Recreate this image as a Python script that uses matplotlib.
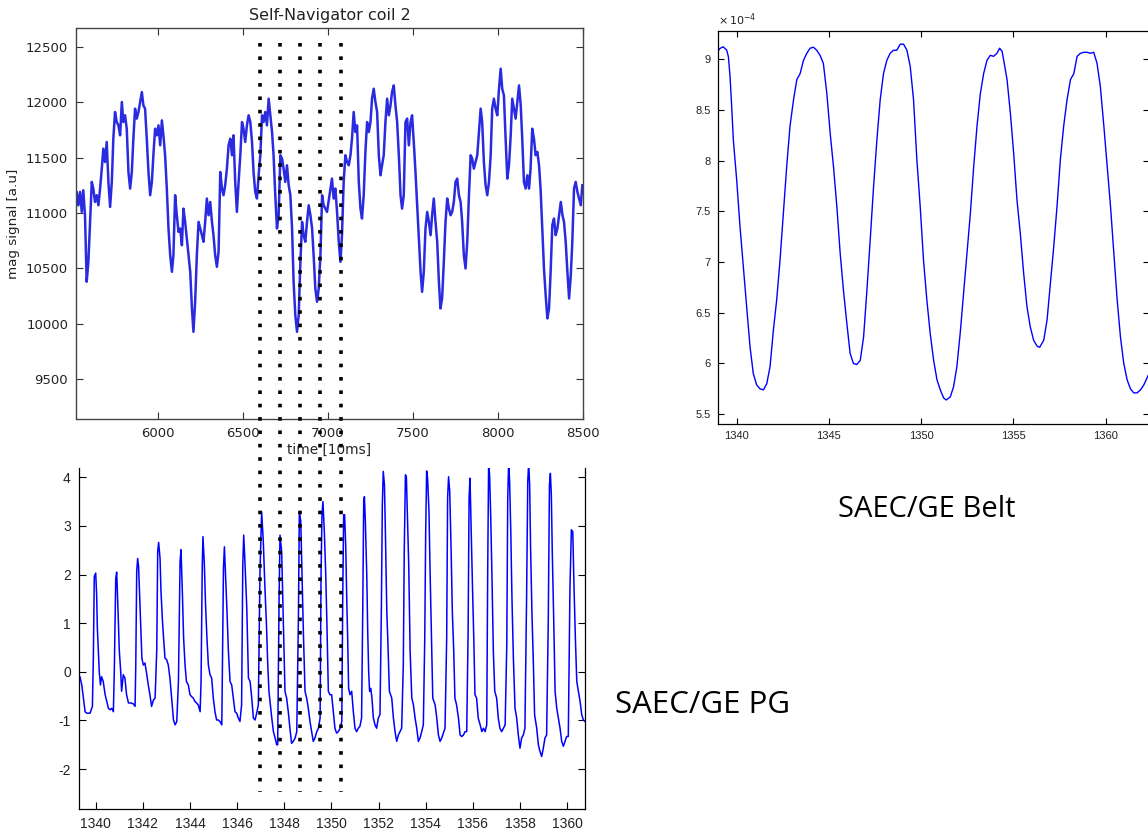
import matplotlib.pyplot as plt
import numpy as np
from matplotlib.ticker import FuncFormatter

plt.rcParams['axes.unicode_minus'] = False

# Self-Navigator coil 2: time [10ms] and magnitude signal [a.u]
nav_t = [5510, 5520, 5530, 5540, 5550, 5559, 5569, 5579, 5589, 5599, 5609, 5618, 5628, 5638, 5648,
         5658, 5668, 5677, 5687, 5697, 5707, 5717, 5727, 5736, 5746, 5756, 5766, 5776, 5786, 5795,
         5805, 5815, 5825, 5835, 5845, 5854, 5864, 5874, 5884, 5894, 5904, 5913, 5923, 5933, 5943,
         5953, 5963, 5972, 5982, 5992, 6002, 6012, 6022, 6031, 6041, 6051, 6061, 6071, 6081, 6090,
         6100, 6110, 6120, 6130, 6140, 6149, 6159, 6169, 6179, 6189, 6199, 6208, 6218, 6228, 6238,
         6248, 6258, 6267, 6277, 6287, 6297, 6307, 6317, 6326, 6336, 6346, 6356, 6366, 6376, 6385,
         6395, 6405, 6415, 6425, 6435, 6444, 6454, 6464, 6474, 6484, 6494, 6503, 6513, 6523, 6533,
         6543, 6553, 6562, 6572, 6582, 6592, 6602, 6612, 6621, 6631, 6641, 6651, 6661, 6671, 6680,
         6690, 6700, 6710, 6720, 6730, 6739, 6749, 6759, 6769, 6779, 6789, 6798, 6808, 6818, 6828,
         6838, 6848, 6857, 6867, 6877, 6887, 6897, 6907, 6916, 6926, 6936, 6946, 6956, 6966, 6975,
         6995, 7015, 7024, 7034, 7044, 7054, 7064, 7074, 7083, 7093, 7103, 7113, 7123, 7133, 7142,
         7152, 7162, 7172, 7182, 7192, 7201, 7211, 7221, 7231, 7241, 7251, 7260, 7270, 7280, 7290,
         7300, 7310, 7319, 7329, 7339, 7349, 7359, 7369, 7378, 7388, 7398, 7408, 7418, 7428, 7437,
         7447, 7457, 7467, 7477, 7487, 7496, 7506, 7516, 7526, 7536, 7546, 7555, 7565, 7575, 7585,
         7595, 7605, 7614, 7624, 7634, 7644, 7654, 7663, 7673, 7683, 7693, 7703, 7713, 7723, 7732,
         7742, 7752, 7762, 7772, 7782, 7791, 7801, 7811, 7821, 7831, 7841, 7850, 7860, 7870, 7880,
         7890, 7900, 7909, 7919, 7929, 7939, 7949, 7959, 7968, 7978, 7988, 7998, 8008, 8018, 8027,
         8037, 8047, 8057, 8067, 8077, 8086, 8096, 8106, 8116, 8126, 8136, 8145, 8155, 8165, 8175,
         8185, 8194, 8204, 8214, 8224, 8234, 8244, 8253, 8263, 8273, 8283, 8293, 8303, 8313, 8322,
         8332, 8342, 8352, 8362, 8372, 8382, 8391, 8401, 8411, 8421, 8431, 8440, 8450, 8460, 8470,
         8480, 8490, 8499]
nav_sig = [10921, 11192, 11071, 11192, 11011, 11207, 10981, 10380, 10560, 10921, 11282, 11222, 11101, 11162, 11071,
           11222, 11402, 11583, 11462, 11643, 11282, 11056, 11282, 11673, 11914, 11823, 11793, 11703, 12004, 11823,
           11884, 11763, 11372, 11222, 11372, 11673, 11944, 11854, 11914, 12004, 12094, 11974, 11944, 11673, 11372,
           11162, 11282, 11523, 11763, 11703, 11793, 11613, 11838, 11703, 11523, 11222, 10861, 10620, 10470, 10620,
           11162, 10981, 10831, 10861, 10710, 11041, 10921, 10771, 10620, 10470, 10139, 9928, 10199, 10620, 10921,
           10861, 10801, 10741, 10921, 11132, 10981, 11101, 10921, 10801, 10620, 10515, 10650, 11372, 11222, 11162,
           11252, 11402, 11613, 11673, 11523, 11703, 11282, 11011, 11282, 11523, 11823, 11763, 11643, 11793, 11884,
           11823, 11643, 11372, 11192, 11132, 11342, 11523, 11884, 11823, 11914, 11793, 12034, 11884, 11733, 11523,
           11162, 10861, 10981, 11523, 11493, 11402, 11282, 11432, 11252, 11162, 10861, 10380, 10079, 9928, 10079,
           10560, 10921, 10801, 10741, 10921, 11071, 10981, 10861, 10620, 10319, 10199, 10319, 10620, 11162, 11071,
           11011, 11222, 11312, 11132, 11222, 11011, 10741, 10560, 10801, 11282, 11523, 11462, 11432, 11523, 11673,
           11914, 11733, 11793, 11282, 11041, 10951, 11162, 11553, 11823, 11733, 11823, 12034, 12124, 12004, 11914,
           11523, 11342, 11432, 11523, 11823, 12034, 11884, 11974, 12094, 12154, 11974, 11823, 11523, 11162, 11041,
           11162, 11823, 11854, 11613, 11823, 11884, 11643, 11372, 11071, 10771, 10470, 10289, 10470, 10861, 11011,
           10921, 10801, 10981, 11132, 10921, 10741, 10380, 10139, 10229, 10560, 10921, 11132, 11041, 10981, 11011,
           11101, 11282, 11312, 11162, 11101, 10921, 10620, 10500, 10741, 11162, 11523, 11493, 11402, 11462, 11523,
           11733, 11944, 11823, 11462, 11252, 11162, 11282, 11523, 11944, 12034, 11944, 11884, 12124, 12305, 12124,
           12064, 11673, 11312, 11432, 11703, 12034, 11944, 11854, 12004, 12154, 11974, 11673, 11282, 11222, 11342,
           11222, 11402, 11763, 11673, 11523, 11553, 11432, 11222, 10861, 10500, 10259, 10049, 10139, 10500, 10891,
           10951, 10801, 10861, 10981, 11101, 10981, 10921, 10741, 10470, 10229, 10440, 10741, 11222, 11282, 11192,
           11132, 11071, 11252]

# SAEC/GE PG (time [s])
pg_t = [1339.33, 1339.41, 1339.48, 1339.55, 1339.62, 1339.76, 1339.86, 1339.90, 1339.94, 1340.00,
        1340.04, 1340.07, 1340.11, 1340.15, 1340.20, 1340.25, 1340.32, 1340.40, 1340.47, 1340.54,
        1340.61, 1340.68, 1340.75, 1340.79, 1340.85, 1340.89, 1340.93, 1340.96, 1341.00, 1341.06,
        1341.10, 1341.17, 1341.24, 1341.31, 1341.39, 1341.50, 1341.60, 1341.67, 1341.70, 1341.74,
        1341.78, 1341.82, 1341.88, 1341.92, 1341.96, 1342.02, 1342.09, 1342.16, 1342.23, 1342.30,
        1342.37, 1342.45, 1342.52, 1342.59, 1342.63, 1342.67, 1342.73, 1342.77, 1342.83, 1342.88,
        1342.94, 1343.01, 1343.08, 1343.15, 1343.22, 1343.30, 1343.37, 1343.44, 1343.51, 1343.58,
        1343.62, 1343.68, 1343.73, 1343.79, 1343.85, 1343.93, 1344.00, 1344.07, 1344.14, 1344.21,
        1344.28, 1344.35, 1344.43, 1344.47, 1344.52, 1344.55, 1344.61, 1344.66, 1344.72, 1344.78,
        1344.85, 1344.92, 1344.99, 1345.06, 1345.13, 1345.20, 1345.27, 1345.35, 1345.37, 1345.42,
        1345.46, 1345.51, 1345.57, 1345.63, 1345.70, 1345.77, 1345.84, 1345.91, 1345.98, 1346.05,
        1346.12, 1346.19, 1346.24, 1346.28, 1346.33, 1346.41, 1346.48, 1346.55, 1346.62, 1346.69,
        1346.76, 1346.83, 1346.90, 1346.97, 1347.04, 1347.11, 1347.18, 1347.24, 1347.30, 1347.35,
        1347.41, 1347.47, 1347.54, 1347.61, 1347.68, 1347.72, 1347.78, 1347.82, 1347.89, 1347.96,
        1348.03, 1348.10, 1348.17, 1348.24, 1348.31, 1348.38, 1348.46, 1348.53, 1348.60, 1348.64,
        1348.70, 1348.74, 1348.81, 1348.88, 1348.95, 1349.02, 1349.09, 1349.16, 1349.23, 1349.30,
        1349.38, 1349.45, 1349.52, 1349.56, 1349.60, 1349.64, 1349.70, 1349.76, 1349.81, 1349.87,
        1349.94, 1350.01, 1350.08, 1350.15, 1350.22, 1350.29, 1350.37, 1350.41, 1350.44, 1350.48,
        1350.52, 1350.56, 1350.61, 1350.65, 1350.69, 1350.73, 1350.79, 1350.86, 1350.93, 1351.00,
        1351.07, 1351.14, 1351.21, 1351.28, 1351.33, 1351.37, 1351.40, 1351.44, 1351.50, 1351.54,
        1351.58, 1351.62, 1351.67, 1351.72, 1351.78, 1351.85, 1351.92, 1351.99, 1352.06, 1352.12,
        1352.16, 1352.20, 1352.25, 1352.29, 1352.35, 1352.40, 1352.46, 1352.56, 1352.63, 1352.70,
        1352.77, 1352.84, 1352.91, 1352.98, 1353.05, 1353.09, 1353.14, 1353.18, 1353.22, 1353.28,
        1353.34, 1353.41, 1353.48, 1353.55, 1353.62, 1353.69, 1353.76, 1353.83, 1353.90, 1353.96,
        1354.00, 1354.04, 1354.08, 1354.14, 1354.18, 1354.24, 1354.30, 1354.40, 1354.47, 1354.54,
        1354.61, 1354.68, 1354.75, 1354.82, 1354.89, 1354.93, 1354.97, 1355.02, 1355.08, 1355.13,
        1355.19, 1355.24, 1355.31, 1355.39, 1355.46, 1355.53, 1355.60, 1355.67, 1355.74, 1355.80,
        1355.84, 1355.88, 1355.92, 1355.98, 1356.04, 1356.09, 1356.16, 1356.23, 1356.31, 1356.38,
        1356.45, 1356.52, 1356.59, 1356.63, 1356.67, 1356.71, 1356.76, 1356.81, 1356.87, 1356.93,
        1357.01, 1357.08, 1357.15, 1357.22, 1357.30, 1357.37, 1357.44, 1357.48, 1357.52, 1357.56,
        1357.61, 1357.66, 1357.72, 1357.79, 1357.86, 1357.93, 1358.00, 1358.07, 1358.14, 1358.21,
        1358.28, 1358.33, 1358.37, 1358.41, 1358.45, 1358.51, 1358.57, 1358.62, 1358.71, 1358.78,
        1358.85, 1358.92, 1358.99, 1359.06, 1359.13, 1359.20, 1359.25, 1359.29, 1359.33, 1359.37,
        1359.43, 1359.49, 1359.56, 1359.63, 1359.70, 1359.77, 1359.84, 1359.91, 1359.98, 1360.05,
        1360.12, 1360.18, 1360.24, 1360.29, 1360.35, 1360.41, 1360.48, 1360.55, 1360.62, 1360.69,
        1360.76]
pg_sig = [-0.10, -0.27, -0.54, -0.82, -0.85, -0.85, -0.71, 0.28, 1.96, 2.03,
          1.58, 0.90, 0.45, 0.01, -0.27, -0.10, -0.20, -0.47, -0.61, -0.75,
          -0.78, -0.75, -0.82, 0.04, 1.92, 2.05, 1.51, 1.07, 0.45, 0.01,
          -0.40, -0.06, -0.13, -0.47, -0.64, -0.64, -0.66, -0.71, 0.14, 2.06,
          2.33, 2.16, 1.38, 0.86, 0.28, 0.14, 0.18, -0.03, -0.27, -0.47,
          -0.71, -0.58, -0.54, 0.45, 2.47, 2.66, 2.33, 1.65, 1.07, 0.69,
          0.28, 0.25, 0.14, -0.13, -0.54, -0.99, -1.09, -1.02, -0.20, 2.27,
          2.51, 1.58, 0.69, 0.14, -0.20, -0.27, -0.47, -0.51, -0.54, -0.61,
          -0.64, -0.68, -0.82, -0.20, 2.16, 2.78, 2.20, 1.38, 0.69, 0.14,
          -0.06, -0.13, -0.54, -0.82, -0.99, -0.99, -1.02, -1.09, -0.20, 2.13,
          2.57, 1.99, 1.24, 0.42, -0.20, -0.27, -0.54, -0.82, -0.85, -0.95,
          -1.02, -0.68, 2.20, 2.81, 2.27, 1.31, -0.13, -0.20, -0.54, -0.95,
          -0.99, -0.85, -0.68, 2.06, 3.29, 2.68, 1.72, 1.03, 0.14, -0.40,
          -0.68, -0.95, -1.23, -1.36, -1.50, -1.50, 1.51, 2.81, 2.47, 1.03,
          -0.40, -0.54, -0.82, -1.16, -1.47, -1.43, -1.36, -1.23, 1.10, 3.29,
          3.09, 2.27, 0.83, -0.40, -0.54, -0.75, -1.02, -1.23, -1.43, -1.36,
          -1.23, -1.16, -0.95, 1.99, 3.23, 3.50, 2.88, 1.99, 0.97, -0.40,
          -0.47, -0.47, -0.82, -1.16, -1.26, -1.23, -1.16, -1.09, -1.02, 1.51,
          3.23, 3.23, 2.54, 1.51, 0.69, -0.34, -0.47, -0.40, -0.82, -1.16,
          -1.23, -1.16, -1.12, -0.95, 1.31, 3.50, 3.60, 3.09, 1.99, 0.83,
          0.01, -0.40, -0.34, -0.54, -0.95, -1.09, -1.16, -0.95, -0.88, 1.31,
          3.43, 4.12, 3.84, 2.88, 1.24, 0.55, -0.40, -0.54, -0.95, -1.23,
          -1.43, -1.30, -1.23, -1.16, 0.14, 2.47, 4.05, 4.01, 3.29, 2.20,
          0.42, -0.54, -0.68, -0.95, -1.16, -1.43, -1.36, -1.23, -1.09, 0.69,
          2.88, 4.13, 3.98, 3.29, 2.20, 0.83, -0.54, -0.68, -0.95, -1.30,
          -1.43, -1.36, -1.26, -1.16, 0.69, 3.57, 4.01, 3.70, 2.47, 1.24,
          0.42, -0.54, -0.68, -0.95, -1.30, -1.33, -1.30, -1.23, -1.23, 0.83,
          3.57, 3.98, 3.09, 1.85, 0.69, -0.47, -0.54, -0.95, -1.09, -1.23,
          -1.16, -1.23, -1.09, 2.06, 4.30, 4.05, 3.16, 1.99, 0.42, -0.40,
          -0.54, -0.95, -1.16, -1.23, -1.16, -1.09, 0.55, 3.57, 4.30, 3.91,
          2.88, 1.51, 0.28, -0.75, -0.95, -1.30, -1.57, -1.36, -1.30, -1.16,
          1.51, 3.91, 4.30, 3.84, 2.54, 1.17, 0.14, -0.88, -1.16, -1.50,
          -1.64, -1.74, -1.57, -1.36, -1.30, 1.03, 3.84, 4.08, 3.64, 2.47,
          1.10, -0.40, -0.75, -0.95, -1.16, -1.43, -1.53, -1.43, -1.33, -1.33,
          1.72, 2.92, 2.88, 1.79, 0.69, -0.20, -0.40, -0.61, -0.88, -0.99,
          -1.02]

# SAEC/GE Belt (time [s], signal in units of 1e-4)
belt_t = [1338.97, 1339.09, 1339.27, 1339.46, 1339.55, 1339.64, 1339.73, 1339.82, 1340.00, 1340.18,
          1340.36, 1340.54, 1340.72, 1340.90, 1341.08, 1341.26, 1341.45, 1341.63, 1341.81, 1341.99,
          1342.17, 1342.35, 1342.53, 1342.71, 1342.89, 1343.08, 1343.26, 1343.44, 1343.62, 1343.80,
          1343.98, 1344.16, 1344.34, 1344.52, 1344.70, 1344.89, 1345.07, 1345.25, 1345.43, 1345.61,
          1345.79, 1345.97, 1346.15, 1346.33, 1346.51, 1346.70, 1346.88, 1347.06, 1347.24, 1347.42,
          1347.60, 1347.78, 1347.96, 1348.14, 1348.32, 1348.50, 1348.68, 1348.87, 1349.05, 1349.23,
          1349.41, 1349.59, 1349.77, 1349.95, 1350.13, 1350.31, 1350.49, 1350.68, 1350.86, 1351.04,
          1351.22, 1351.36, 1351.58, 1351.76, 1351.94, 1352.12, 1352.30, 1352.49, 1352.67, 1352.85,
          1353.03, 1353.21, 1353.39, 1353.57, 1353.75, 1353.93, 1354.11, 1354.26, 1354.39, 1354.48,
          1354.66, 1354.84, 1355.02, 1355.20, 1355.38, 1355.56, 1355.74, 1355.92, 1356.10, 1356.29,
          1356.43, 1356.65, 1356.83, 1357.01, 1357.19, 1357.37, 1357.55, 1357.73, 1357.91, 1358.10,
          1358.28, 1358.46, 1358.64, 1358.82, 1359.00, 1359.18, 1359.36, 1359.54, 1359.72, 1359.91,
          1360.09, 1360.27, 1360.45, 1360.63, 1360.81, 1360.99, 1361.17, 1361.35, 1361.53, 1361.71,
          1361.90, 1362.08, 1362.33]
belt_sig = [9.075, 9.108, 9.124, 9.09, 9.026, 8.83, 8.53, 8.20, 7.81, 7.35,
            6.95, 6.56, 6.17, 5.90, 5.79, 5.75, 5.74, 5.80, 5.97, 6.33,
            6.63, 7.02, 7.48, 7.94, 8.34, 8.60, 8.80, 8.86, 8.99, 9.06,
            9.11, 9.12, 9.09, 9.04, 8.96, 8.66, 8.27, 7.94, 7.55, 7.09,
            6.72, 6.40, 6.10, 6.00, 5.99, 6.03, 6.26, 6.72, 7.22, 7.74,
            8.20, 8.60, 8.86, 8.99, 9.06, 9.09, 9.09, 9.15, 9.15, 9.09,
            8.93, 8.60, 8.01, 7.55, 7.02, 6.63, 6.30, 6.03, 5.84, 5.74,
            5.66, 5.64, 5.67, 5.77, 5.97, 6.30, 6.69, 7.09, 7.48, 7.94,
            8.34, 8.66, 8.86, 8.99, 9.04, 9.03, 9.06, 9.11, 9.08, 8.99,
            8.80, 8.47, 8.07, 7.61, 7.28, 6.89, 6.56, 6.36, 6.23, 6.17,
            6.16, 6.23, 6.43, 6.79, 7.15, 7.55, 8.01, 8.34, 8.60, 8.80,
            8.86, 9.03, 9.06, 9.07, 9.07, 9.06, 9.07, 8.96, 8.73, 8.34,
            7.94, 7.55, 7.09, 6.63, 6.26, 6.00, 5.84, 5.75, 5.71, 5.71,
            5.74, 5.79, 5.89]

# time stamps of the dotted marker lines, on the navigator time axis
mark_t = [6599, 6716, 6836, 6953, 7077]

W, H = 1148, 835
fig = plt.figure(figsize=(W / 100, H / 100), dpi=100)

# ---- Self-Navigator coil 2 (matplotlib classic look) ----
ax_nav = fig.add_axes([76.5 / W, 1 - 419 / H, 506 / W, 390.7 / H])
ax_nav.set_zorder(5)
ax_nav.plot(nav_t, nav_sig, color='#2a2ae0', lw=1.8)
ax_nav.set_xlim(5519, 8500)
ax_nav.set_ylim(9140, 12670)
ax_nav.set_xticks([6000, 6500, 7000, 7500, 8000, 8500])
ax_nav.set_yticks([9500, 10000, 10500, 11000, 11500, 12000, 12500])
ax_nav.tick_params(direction='in', length=5, width=0.8, top=True, right=True,
                   labelsize=9.5, labelcolor='#222222', color='#333333', pad=6)
for s in ax_nav.spines.values():
    s.set_color('#444444')
    s.set_linewidth(1.0)
ax_nav.set_title('Self-Navigator coil 2', fontsize=11.5, color='#222222', pad=6)
ax_nav.set_ylabel('mag signal [a.u]', fontsize=9.7, color='#222222', labelpad=4)
ax_nav.set_xlabel('time [10ms]', fontsize=9.8, color='#222222', labelpad=2)

# dotted markers running down through the PG panel
tr = ax_nav.get_xaxis_transform()
for m in mark_t:
    ax_nav.plot([m, m], [0.962, -0.955], transform=tr, color='black', lw=2.6,
                linestyle=(0, (1, 2.7)), dash_capstyle='butt', clip_on=False, zorder=10)

# ---- SAEC/GE PG (MATLAB look) ----
ax_pg = fig.add_axes([79.2 / W, 26 / H, 505.6 / W, 341 / H])
ax_pg.plot(pg_t, pg_sig, color='#0000ff', lw=1.1)
ax_pg.set_xlim(1339.3, 1360.75)
ax_pg.set_ylim(-2.82, 4.19)
ax_pg.set_xticks(np.arange(1340, 1361, 2))
ax_pg.set_yticks([-2, -1, 0, 1, 2, 3, 4])
ax_pg.spines['top'].set_visible(False)
ax_pg.tick_params(direction='in', length=5, width=0.8, top=False, right=True,
                  labelsize=10, labelcolor='#222222', pad=6)
for lab in ax_pg.get_xticklabels() + ax_pg.get_yticklabels():
    lab.set_family('Liberation Sans')
for s in ax_pg.spines.values():
    s.set_linewidth(0.9)

# ---- SAEC/GE Belt (MATLAB look) ----
ax_belt = fig.add_axes([717.7 / W, 1 - 424.3 / H, 430.8 / W, 393.3 / H])
ax_belt.plot(belt_t, np.array(belt_sig) * 1e-4, color='#0000ff', lw=1.0)
ax_belt.set_xlim(1338.97, 1362.33)
ax_belt.set_ylim(5.40e-4, 9.28e-4)
ax_belt.set_xticks([1340, 1345, 1350, 1355, 1360])
ax_belt.set_yticks(np.array([5.5, 6, 6.5, 7, 7.5, 8, 8.5, 9]) * 1e-4)
ax_belt.yaxis.set_major_formatter(FuncFormatter(lambda v, p: '%g' % round(v * 1e4, 2)))
ax_belt.tick_params(direction='in', length=4, width=0.8, top=True, right=True,
                    labelsize=8, labelcolor='#222222', pad=5)
for lab in ax_belt.get_xticklabels() + ax_belt.get_yticklabels():
    lab.set_family('Liberation Sans')
for s in ax_belt.spines.values():
    s.set_linewidth(0.9)
ax_belt.text(0.0, 1.008, r'$\times\,10^{-4}$', transform=ax_belt.transAxes,
             fontsize=8, ha='left', va='bottom', color='#222222')

# ---- slide captions ----
fig.text(838 / W, 1 - 517 / H, 'SAEC/GE Belt', fontsize=21, family='Open Sans',
         ha='left', va='baseline', color='black')
fig.text(615 / W, 1 - 713 / H, 'SAEC/GE PG', fontsize=22.5, family='Open Sans',
         ha='left', va='baseline', color='black')

fig.savefig('out.png', dpi=100)
